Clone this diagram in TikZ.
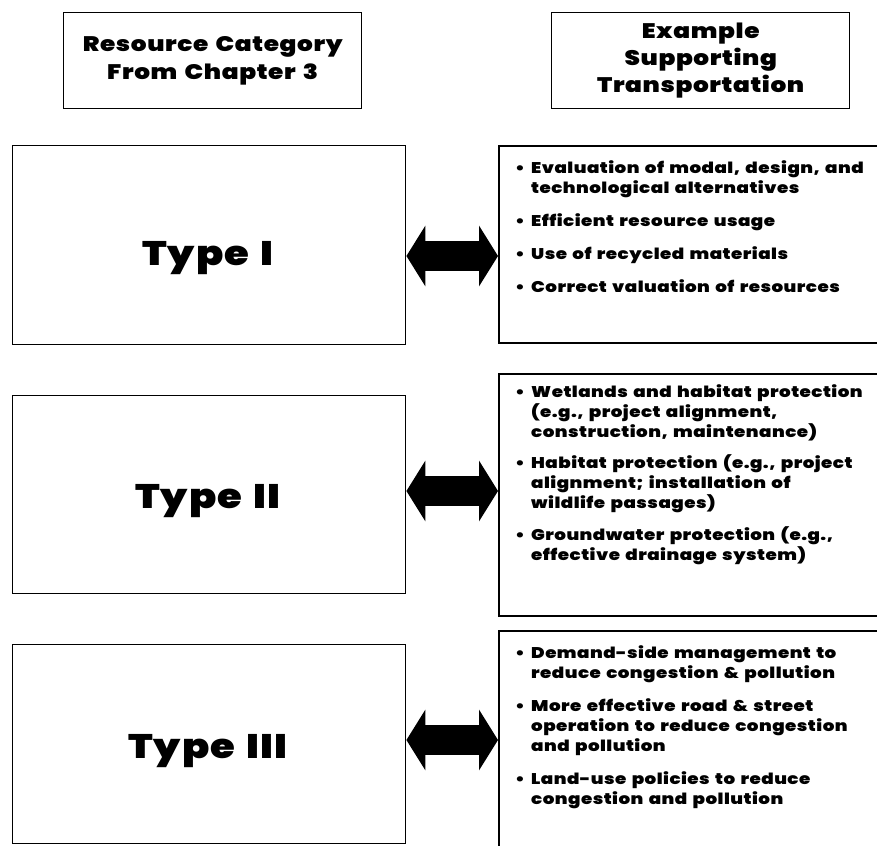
\documentclass[tikz,border=0pt]{standalone}
\usepackage{fontspec}
\IfFontExistsTF{Poppins Black}
  {\setmainfont{Poppins}[BoldFont={Poppins Black},BoldFeatures={FakeStretch=1.18,LetterSpace=3,WordSpace=1.5}]}
  {\setmainfont{Poppins}[BoldFeatures={FakeStretch=1.18,LetterSpace=3,WordSpace=1.5,FakeBold=1.5}]}
\usetikzlibrary{arrows.meta}
\begin{document}
\begin{tikzpicture}[x=1pt,y=-1pt,
  frame/.style={draw,line width=1.4pt,anchor=north west,inner sep=0pt},
  rframe/.style={draw,line width=2pt,anchor=north west,inner sep=0pt},
  headtxt/.style={font=\bfseries\fontsize{21}{27}\selectfont,align=center},
  typetxt/.style={font=\bfseries\fontsize{34}{40}\selectfont,anchor=base},
  bul/.style={font=\bfseries\fontsize{15.5}{19}\selectfont,anchor=base,inner sep=0pt},
  itemtxt/.style={font=\bfseries\fontsize{15.5}{19}\selectfont,anchor=base west,inner sep=0pt},
  dblarrow/.style={line width=30pt,{Triangle[length=19pt,width=60pt]}-{Triangle[length=19pt,width=60pt]}}]
\useasboundingbox (0,0) rectangle (877,845);

% header boxes
\node[frame,minimum width=298pt,minimum height=96pt] (HL) at (63,12) {};
\node[headtxt,font=\bfseries\fontsize{21}{28}\selectfont] (HLt) at (HL.center) {Resource Category\\From Chapter 3};
\node[frame,minimum width=298pt,minimum height=96pt] (HR) at (551,12) {};
\node[headtxt] (HRt) at (HR.center) {Example\\Supporting\\Transportation};

% left boxes
\node[frame,minimum width=393pt,minimum height=199pt] (L1) at (12,145) {};
\node[frame,minimum width=393pt,minimum height=198pt] (L2) at (12,395) {};
\node[frame,minimum width=393pt,minimum height=199pt] (L3) at (12,644) {};
\node[typetxt] (T1) at (208,265) {Type I};
\node[typetxt] (T2) at (208,508) {Type II};
\node[typetxt] (T3) at (208,758) {Type III};

% right boxes
\node[rframe,minimum width=392pt,minimum height=197pt] (R1) at (498,145) {};
\node[rframe,minimum width=392pt,minimum height=242pt] (R2) at (498,373) {};
\node[rframe,minimum width=392pt,minimum height=240pt] (R3) at (498,630) {};

% arrows
\coordinate (c1) at (450,256);
\coordinate (c2) at (450,491);
\coordinate (c3) at (450,740);
\draw[dblarrow] (L1.east |- c1) -- (R1.west |- c1);
\draw[dblarrow] (L2.east |- c2) -- (R2.west |- c2);
\draw[dblarrow] (L3.east |- c3) -- (R3.west |- c3);

% bullet texts
\foreach \y/\b/\t [count=\i] in {
  {173.5/1/Evaluation of modal, design, and},
  {193.5/0/technological alternatives},
  {226.5/1/Efficient resource usage},
  {259.5/1/Use of recycled materials},
  {292.5/1/Correct valuation of resources},
  {397.5/1/Wetlands and habitat protection},
  {417.5/0/(e.g., project alignment,},
  {437.5/0/construction, maintenance)},
  {468.5/1/Habitat protection (e.g., project},
  {488.5/0/alignment; installation of},
  {508.5/0/wildlife passages)},
  {540.5/1/Groundwater protection (e.g.,},
  {560.5/0/effective drainage system)},
  {658.5/1/Demand-side management to},
  {678.5/0/reduce congestion \& pollution},
  {711.5/1/More effective road \& street},
  {731.5/0/operation to reduce congestion},
  {751.5/0/and pollution},
  {784.5/1/Land-use policies to reduce},
  {804.5/0/congestion and pollution}}{
  \node[itemtxt] (t\i) at (531,\y) {\t};
  \ifnum\b=1 \node[bul] (b\i) at (520,\y) {\textbullet}; \fi
}
\end{tikzpicture}
\end{document}
